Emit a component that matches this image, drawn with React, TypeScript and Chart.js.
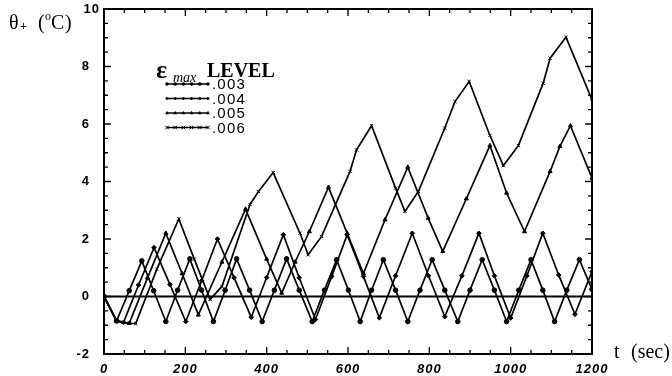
import React, { useEffect, useRef } from "react";
import { Chart, registerables } from "chart.js";

Chart.register(...registerables);

// ---- data ----
const LEVELS = [".003", ".004", ".005", ".006"];

const T003 = [0, 31, 62, 93, 122, 152, 181, 211, 240, 269, 298, 326, 358, 389, 419, 449, 480, 512, 542, 572, 601, 630, 658, 687, 717, 747, 777, 807, 838, 870, 900, 930, 960, 990, 1020, 1050, 1079, 1108, 1138, 1169, 1200];
const V003 = [0, -0.85, 0.2, 1.24, 0.2, -0.87, 0.22, 1.31, 0.22, -0.87, 0.22, 1.31, 0.22, -0.87, 0.22, 1.31, 0.22, -0.87, 0.22, 1.28, 0.22, -0.87, 0.22, 1.28, 0.22, -0.87, 0.22, 1.28, 0.22, -0.87, 0.22, 1.28, 0.22, -0.87, 0.22, 1.28, 0.22, -0.87, 0.22, 1.28, 0.25];

const T004 = [0, 31, 48, 85, 123, 162, 201, 240, 279, 320, 362, 400, 441, 480, 520, 560, 598, 638, 677, 717, 758, 798, 838, 880, 922, 960, 1000, 1040, 1079, 1118, 1158, 1200];
const V004 = [0, -0.85, -0.9, 0.4, 1.7, 0.42, -0.87, 0.55, 2.0, 0.65, -0.72, 0.66, 2.15, 0.65, -0.8, 0.7, 2.15, 0.7, -0.74, 0.72, 2.2, 0.72, -0.7, 0.72, 2.2, 0.72, -0.75, 0.72, 2.2, 0.75, -0.62, 0.87];

const T005 = [0, 31, 48, 62, 107, 152, 192, 232, 290, 348, 400, 437, 470, 505, 552, 598, 638, 691, 747, 797, 833, 891, 949, 990, 1034, 1097, 1121, 1147, 1200];
const V005 = [0, -0.85, -0.9, -0.93, 0.65, 2.2, 0.8, -0.64, 1.2, 3.04, 1.3, 0.12, 1.2, 2.26, 3.8, 2.2, 0.8, 2.67, 4.5, 2.73, 1.57, 3.4, 5.25, 3.6, 2.26, 4.35, 5.22, 5.94, 4.12];

const T006 = [0, 31, 48, 62, 78, 130, 184, 222, 261, 290, 359, 380, 416, 482, 502, 535, 605, 621, 658, 717, 740, 773, 838, 863, 898, 949, 982, 1019, 1080, 1097, 1136, 1199];
const V006 = [0, -0.85, -0.9, -0.93, -0.94, 0.95, 2.7, 1.3, -0.1, 0.35, 3.2, 3.65, 4.31, 2.2, 1.45, 2.09, 4.35, 5.1, 5.94, 3.77, 2.96, 3.65, 5.86, 6.78, 7.48, 5.6, 4.55, 5.25, 7.42, 8.29, 9.02, 6.88];

const POINT_STYLES = ["circle", "rectRot", "triangle", "crossRot"];
const SERIES_T = [T003, T004, T005, T006];
const SERIES_V = [V003, V004, V005, V006];

function drawMarker(ctx: CanvasRenderingContext2D, style: string, x: number, y: number, r: number) {
  ctx.beginPath();
  if (style === "circle") {
    ctx.arc(x, y, r, 0, Math.PI * 2);
    ctx.fill();
  } else if (style === "rectRot") {
    ctx.moveTo(x, y - r);
    ctx.lineTo(x + r, y);
    ctx.lineTo(x, y + r);
    ctx.lineTo(x - r, y);
    ctx.closePath();
    ctx.fill();
  } else if (style === "triangle") {
    ctx.moveTo(x, y - r * 1.2);
    ctx.lineTo(x + r, y + r * 0.7);
    ctx.lineTo(x - r, y + r * 0.7);
    ctx.closePath();
    ctx.fill();
  } else {
    ctx.moveTo(x - r, y - r);
    ctx.lineTo(x + r, y + r);
    ctx.moveTo(x + r, y - r);
    ctx.lineTo(x - r, y + r);
    ctx.stroke();
  }
}

export default function App() {
  const ref = useRef<HTMLCanvasElement>(null);

  useEffect(() => {
    document.body.style.margin = "0";
    const canvas = ref.current!;
    Chart.defaults.font.family = "'Liberation Sans', Arial, sans-serif";

    const framePlugin = {
      id: "frame",
      beforeDatasetsDraw(chart: any) {
        const { ctx, chartArea: a, scales } = chart;
        const xs = scales.x;
        const ys = scales.y;
        ctx.save();
        ctx.strokeStyle = "#000";
        ctx.lineWidth = 2;
        ctx.strokeRect(a.left, a.top, a.right - a.left, a.bottom - a.top);
        const y0 = ys.getPixelForValue(0);
        ctx.beginPath();
        ctx.moveTo(a.left, y0);
        ctx.lineTo(a.right, y0);
        ctx.stroke();
        ctx.lineWidth = 1.3;
        ctx.beginPath();
        for (let t = 0; t <= 1200; t += 50) {
          const px = xs.getPixelForValue(t);
          const len = t % 200 === 0 ? 7 : 4;
          ctx.moveTo(px, a.bottom);
          ctx.lineTo(px, a.bottom - len);
          ctx.moveTo(px, a.top);
          ctx.lineTo(px, a.top + len);
        }
        for (let i = 0; i <= 24; i++) {
          const v = -2 + i * 0.5;
          const py = ys.getPixelForValue(v);
          const len = i % 4 === 0 ? 7 : 4;
          ctx.moveTo(a.left, py);
          ctx.lineTo(a.left + len, py);
          ctx.moveTo(a.right, py);
          ctx.lineTo(a.right - len, py);
        }
        ctx.stroke();

        // tick labels from the scales' own ticks
        ctx.fillStyle = "#000";
        ctx.textBaseline = "middle";
        (ctx as any).letterSpacing = "1px";
        ctx.font = "italic bold 13px 'Liberation Sans', Arial, sans-serif";
        ctx.textAlign = "center";
        for (const tk of xs.ticks) {
          ctx.fillText(String(tk.value), xs.getPixelForValue(tk.value), a.bottom + 15);
        }
        ctx.font = "bold 13px 'Liberation Sans', Arial, sans-serif";
        ctx.textAlign = "right";
        for (const tk of ys.ticks) {
          const py = ys.getPixelForValue(tk.value);
          if (tk.value === 10) {
            ctx.fillText(String(tk.value), 100, py);
          } else {
            ctx.fillText(String(tk.value), 90, py);
          }
        }
        (ctx as any).letterSpacing = "0px";
        ctx.restore();
      },
      afterDraw(chart: any) {
        const ctx: CanvasRenderingContext2D = chart.ctx;
        ctx.save();
        ctx.fillStyle = "#000";
        ctx.strokeStyle = "#000";
        ctx.textBaseline = "alphabetic";
        ctx.textAlign = "left";

        // y-axis title: θ+ (°C)
        ctx.font = "20px 'Liberation Serif', serif";
        ctx.fillText("θ", 9, 29);
        ctx.font = "bold 12px 'Liberation Serif', serif";
        ctx.fillText("+", 20, 30);
        ctx.font = "20px 'Liberation Serif', serif";
        ctx.fillText("(", 38, 29);
        ctx.font = "12px 'Liberation Serif', serif";
        ctx.fillText("o", 45, 20);
        ctx.font = "20px 'Liberation Serif', serif";
        ctx.fillText("C", 51, 29);
        ctx.fillText(")", 65, 29);

        // x-axis title
        ctx.fillText("t", 614, 358);
        ctx.fillText("(sec)", 631, 358);

        // legend header
        ctx.font = "bold 26px 'Liberation Serif', serif";
        ctx.fillText("ε", 156, 78);
        ctx.font = "italic 14px 'Liberation Serif', serif";
        ctx.fillText("max", 173, 82);
        ctx.font = "bold 20px 'Liberation Serif', serif";
        ctx.fillText("LEVEL", 207, 77);

        // legend rows
        ctx.font = "15px 'Liberation Sans', Arial, sans-serif";
        (ctx as any).letterSpacing = "1.2px";
        for (let i = 0; i < LEVELS.length; i++) {
          const y = 84 + i * 14.5;
          ctx.lineWidth = 1.5;
          ctx.beginPath();
          ctx.moveTo(167, y);
          ctx.lineTo(208, y);
          ctx.stroke();
          ctx.lineWidth = 1;
          for (let k = 0; k < 6; k++) {
            drawMarker(ctx, POINT_STYLES[i], 167 + k * 8.2, y, 1.8);
          }
          ctx.fillText(LEVELS[i], 212, y + 5);
        }
        (ctx as any).letterSpacing = "0px";
        ctx.restore();
      },
    };

    const chart = new Chart(canvas, {
      type: "line",
      data: {
        datasets: LEVELS.map((label, i) => ({
          label,
          data: SERIES_T[i].map((t, j) => ({ x: t, y: SERIES_V[i][j] })),
          borderColor: "#000",
          borderWidth: 1.7,
          pointStyle: POINT_STYLES[i] as any,
          pointRadius: 2.3,
          pointBackgroundColor: "#000",
          pointBorderColor: "#000",
          pointBorderWidth: 1,
          tension: 0,
          fill: false,
        })),
      },
      options: {
        responsive: false,
        animation: false,
        devicePixelRatio: 1,
        layout: { padding: { left: 0, right: 80, top: 9, bottom: 0 } },
        plugins: { legend: { display: false }, tooltip: { enabled: false } },
        scales: {
          x: {
            type: "linear",
            min: 0,
            max: 1200,
            grid: { display: false },
            border: { display: false },
            ticks: { stepSize: 200, display: false },
            afterFit(s: any) {
              s.height = 22;
              s.paddingLeft = 0;
              s.paddingRight = 0;
            },
          },
          y: {
            type: "linear",
            min: -2,
            max: 10,
            grid: { display: false },
            border: { display: false },
            ticks: { stepSize: 2, display: false },
            afterFit(s: any) {
              s.width = 104;
              s.paddingTop = 0;
              s.paddingBottom = 0;
            },
          },
        },
      },
      plugins: [framePlugin],
    });

    return () => chart.destroy();
  }, []);

  return (
    <div style={{ position: "absolute", left: 0, top: 0, width: 672, height: 376, background: "#fff" }}>
      <canvas ref={ref} width={672} height={376} style={{ display: "block" }} />
    </div>
  );
}
